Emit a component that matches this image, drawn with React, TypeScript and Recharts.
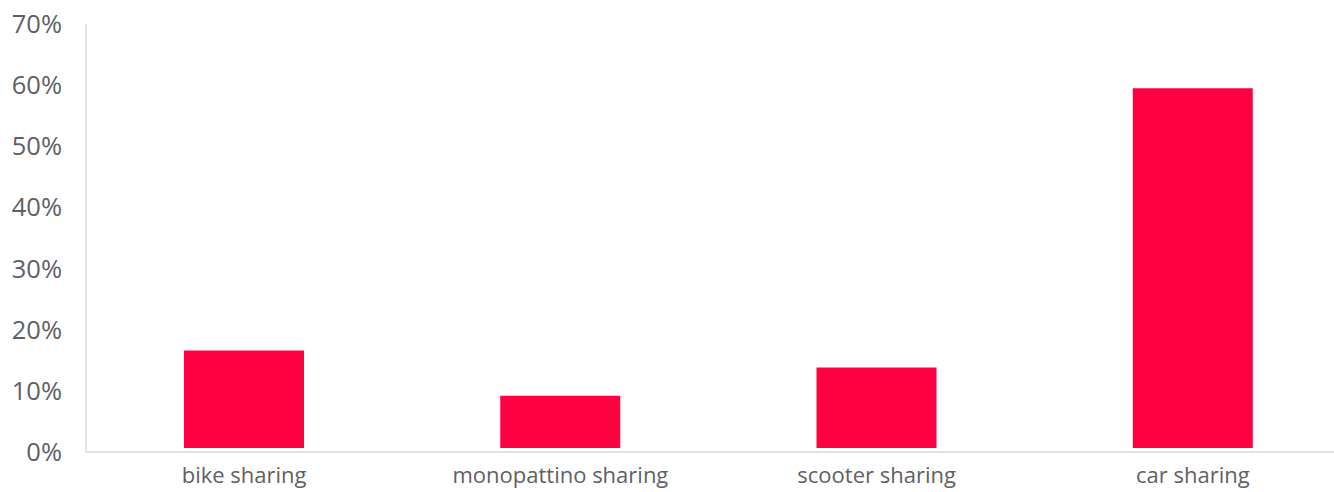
import { BarChart, Bar, XAxis, YAxis, Rectangle } from "recharts";

const categories = ["bike sharing", "monopattino sharing", "scooter sharing", "car sharing"];
const shares = [16.6, 9.2, 13.8, 59.5];
const yTicks = [0, 10, 20, 30, 40, 50, 60, 70];

const data = categories.map((name, i) => ({ name, share: shares[i] }));

const FONT = "'Open Sans', 'Noto Sans', sans-serif";
const TEXT = "#5f5f66";
const AXIS = "#d9d9d9";

// bars stop a few px above the axis line in the original
function LiftedBar(props: any) {
  const h = Math.max(0, props.height - 4);
  return <Rectangle x={props.x} y={props.y} width={props.width} height={h} fill={props.fill} />;
}

export default function App() {
  return (
    <div style={{ position: "absolute", left: 0, top: 0, width: 1334, height: 492, overflow: "hidden", background: "#fff" }}>
      <BarChart
        width={1352}
        height={492}
        data={data}
        margin={{ top: 24, right: 1, left: 0, bottom: 0 }}
        barSize={120}
      >
        <XAxis
          dataKey="name"
          height={40}
          axisLine={{ stroke: AXIS, strokeWidth: 1.5 }}
          tickLine={false}
          tickSize={0}
          tickMargin={15}
          tick={{ fontSize: 22, fill: TEXT, fontFamily: FONT }}
          interval={0}
        />
        <YAxis
          width={86}
          domain={[0, 70]}
          ticks={yTicks}
          axisLine={{ stroke: AXIS, strokeWidth: 1.5 }}
          tickLine={false}
          tickSize={0}
          tickMargin={24}
          tick={{ fontSize: 25.5, fill: TEXT, fontFamily: FONT }}
          tickFormatter={(v) => `${v}%`}
        />
        <Bar dataKey="share" fill="#ff0040" shape={LiftedBar} isAnimationActive={false} />
      </BarChart>
    </div>
  );
}
